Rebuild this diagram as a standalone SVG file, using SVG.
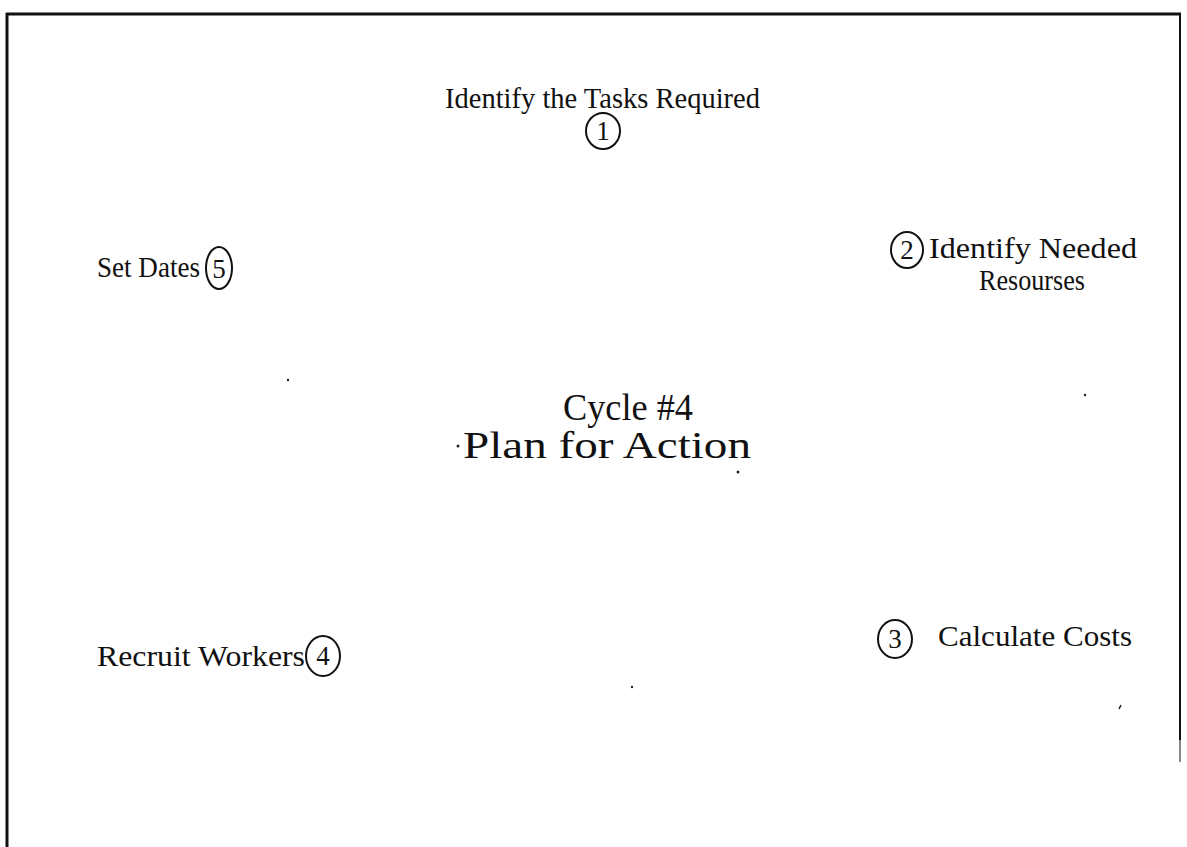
<svg xmlns="http://www.w3.org/2000/svg" width="1187" height="847" viewBox="0 0 1187 847">
  <style>
    .t { font-family: "Liberation Serif", "Times New Roman", serif; fill: #111; }
    .lbl { font-size: 29px; }
    .num { font-size: 27px; text-anchor: middle; }
    .big { font-size: 38px; text-anchor: middle; }
    .ring { fill: none; stroke: #111; stroke-width: 2; }
    .frame { stroke: #111; fill: none; }
    .speck { fill: #222; }
  </style>
  <rect width="1187" height="847" fill="#fff"/>

  <!-- page frame -->
  <g id="frame">
    <line class="frame" x1="6" y1="14" x2="1181" y2="14" stroke-width="3"/>
    <line class="frame" x1="7" y1="13" x2="7" y2="847" stroke-width="3"/>
    <line class="frame" x1="1180" y1="13" x2="1180" y2="740" stroke-width="2"/>
    <line x1="1180" y1="740" x2="1180" y2="762" stroke="#888" stroke-width="2"/>
  </g>

  <!-- title -->
  <g id="title">
    <text class="t big" x="628" y="420" textLength="130" lengthAdjust="spacingAndGlyphs">Cycle #4</text>
    <text class="t big" x="607" y="458" textLength="288" lengthAdjust="spacingAndGlyphs">Plan for Action</text>
  </g>

  <!-- step 1 -->
  <g id="step1">
    <text class="t lbl" x="445" y="108" textLength="315" lengthAdjust="spacingAndGlyphs">Identify the Tasks Required</text>
    <ellipse class="ring" cx="603" cy="131" rx="17" ry="18"/>
    <text class="t num" x="603" y="140">1</text>
  </g>

  <!-- step 2 -->
  <g id="step2">
    <ellipse class="ring" cx="907" cy="250" rx="16" ry="18"/>
    <text class="t num" x="907" y="259">2</text>
    <text class="t lbl" x="929" y="258" textLength="208" lengthAdjust="spacingAndGlyphs">Identify Needed</text>
    <text class="t lbl" x="979" y="290" textLength="106" lengthAdjust="spacingAndGlyphs">Resourses</text>
  </g>

  <!-- step 3 -->
  <g id="step3">
    <ellipse class="ring" cx="895" cy="639" rx="17" ry="19"/>
    <text class="t num" x="895" y="648">3</text>
    <text class="t lbl" x="938" y="646" textLength="194" lengthAdjust="spacingAndGlyphs">Calculate Costs</text>
  </g>

  <!-- step 4 -->
  <g id="step4">
    <text class="t lbl" x="97" y="666" textLength="208" lengthAdjust="spacingAndGlyphs">Recruit Workers</text>
    <ellipse class="ring" cx="323" cy="656" rx="17" ry="20"/>
    <text class="t num" x="323" y="665">4</text>
  </g>

  <!-- step 5 -->
  <g id="step5">
    <text class="t lbl" x="97" y="277" textLength="103" lengthAdjust="spacingAndGlyphs">Set Dates</text>
    <ellipse class="ring" cx="219" cy="268" rx="13" ry="21"/>
    <text class="t num" x="219" y="278">5</text>
  </g>

  <!-- no connectors are drawn between the steps -->
  <g id="connectors"/>

  <!-- scan specks -->
  <g id="specks">
    <circle class="speck" cx="458" cy="446" r="1.5"/>
    <circle class="speck" cx="738" cy="472" r="1.5"/>
    <circle class="speck" cx="288" cy="380" r="1.2"/>
    <circle class="speck" cx="1085" cy="395" r="1.2"/>
    <circle class="speck" cx="632" cy="687" r="1.2"/>
    <line x1="1119" y1="709" x2="1121" y2="705" stroke="#222" stroke-width="1.5"/>
  </g>
</svg>
